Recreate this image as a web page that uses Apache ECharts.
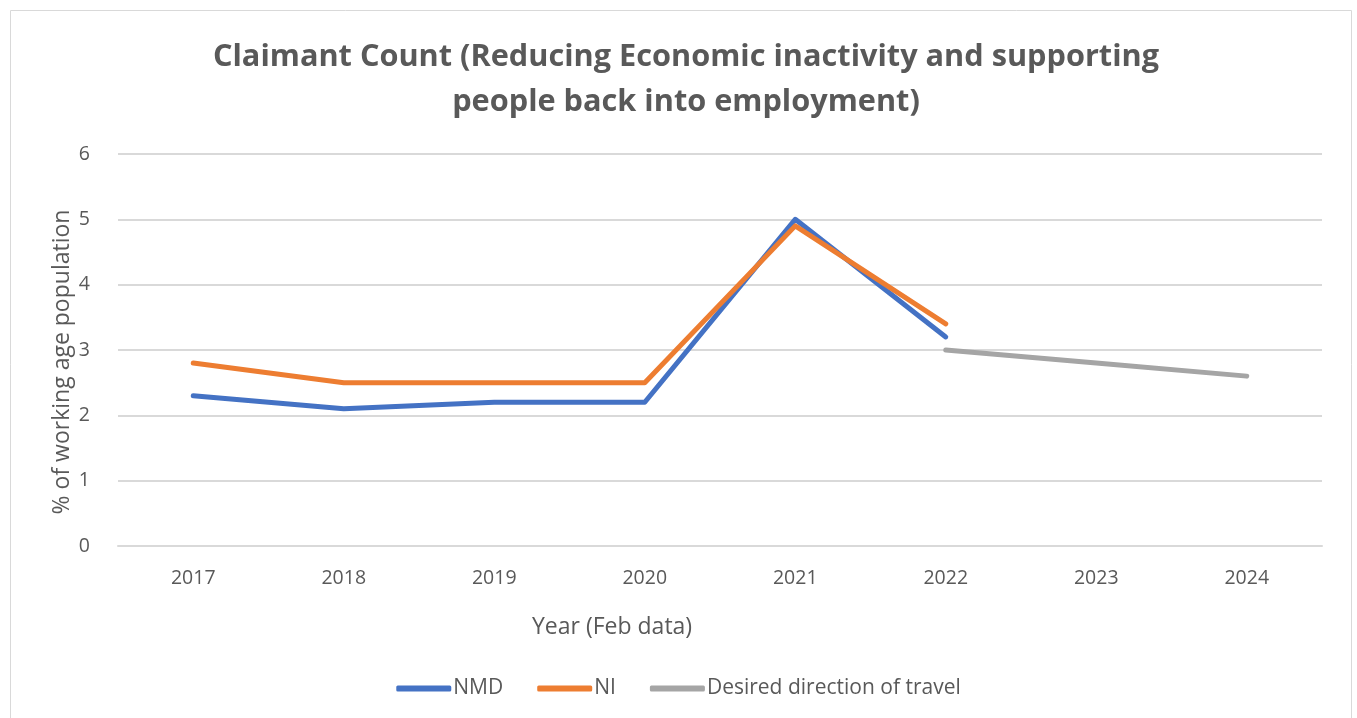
<!DOCTYPE html>
<html>
<head>
<meta charset="utf-8">
<script src="https://cdn.jsdelivr.net/npm/echarts@6/dist/echarts.min.js"></script>
<style>
  html, body { margin: 0; padding: 0; background: #fff; }
  #chart { width: 1357px; height: 718px; }
</style>
</head>
<body>
<div id="chart"></div>
<script>
// data
const years = ['2017', '2018', '2019', '2020', '2021', '2022', '2023', '2024'];
const nmd = [2.3, 2.1, 2.2, 2.2, 5.0, 3.2, null, null];
const ni = [2.8, 2.5, 2.5, 2.5, 4.9, 3.4, null, null];
const desired = [null, null, null, null, null, 3.0, 2.8, 2.6];

const textColor = '#595959';
const font = 'Open Sans';

const chart = echarts.init(document.getElementById('chart'));

const lineSeries = (name, data, color) => ({
  name: name,
  type: 'line',
  data: data,
  symbol: 'none',
  connectNulls: false,
  lineStyle: { color: color, width: 5, cap: 'round', join: 'round' },
  itemStyle: { color: color },
  emphasis: { disabled: true }
});

chart.setOption({
  animation: false,
  title: {
    text: 'Claimant Count (Reducing Economic inactivity and supporting\npeople back into employment)',
    left: 681,
    top: 30,
    textAlign: 'center',
    textStyle: {
      fontFamily: font,
      fontWeight: 'bold',
      fontSize: 30.7,
      color: textColor,
      lineHeight: 45
    }
  },
  graphic: [{
    type: 'rect',
    shape: { x: 10.5, y: 10.5, width: 1341, height: 720 },
    style: { fill: 'none', stroke: '#d9d9d9', lineWidth: 1 },
    silent: true,
    z: -1
  }, {
    type: 'text',
    left: 532,
    top: 616,
    style: {
      text: 'Year (Feb data)',
      font: '23px "Open Sans"',
      fill: textColor
    }
  }, {
    // y axis title, sits a little below the plot middle like the reference
    type: 'text',
    x: 62,
    y: 362,
    rotation: Math.PI / 2,
    style: {
      text: '% of working age population',
      font: '23px "Open Sans"',
      fill: textColor,
      align: 'center',
      verticalAlign: 'middle'
    }
  }],
  legend: {
    bottom: 14,
    left: 'center',
    itemWidth: 55,
    itemHeight: 6,
    itemGap: 34,
    icon: 'roundRect',
    textStyle: { fontFamily: font, fontSize: 21, color: textColor, padding: [0, 0, 0, -3] },
    data: ['NMD', 'NI', 'Desired direction of travel']
  },
  grid: { left: 118, right: 35, top: 154, bottom: 172 },
  xAxis: {
    type: 'category',
    data: years,
    boundaryGap: true,
    axisLine: { show: true, lineStyle: { color: '#d9d9d9', width: 2 } },
    axisTick: { show: false },
    axisLabel: { fontFamily: font, fontSize: 19.5, color: textColor, margin: 22 }
  },
  yAxis: {
    type: 'value',
    min: 0,
    max: 6,
    interval: 1,
    axisLine: { show: false },
    axisTick: { show: false },
    axisLabel: { fontFamily: font, fontSize: 19.5, color: textColor, margin: 28 },
    splitLine: { lineStyle: { color: '#d9d9d9', width: 2 } }
  },
  series: [
    lineSeries('NMD', nmd, '#4472c4'),
    lineSeries('NI', ni, '#ed7d31'),
    lineSeries('Desired direction of travel', desired, '#a5a5a5')
  ]
});
</script>
</body>
</html>
